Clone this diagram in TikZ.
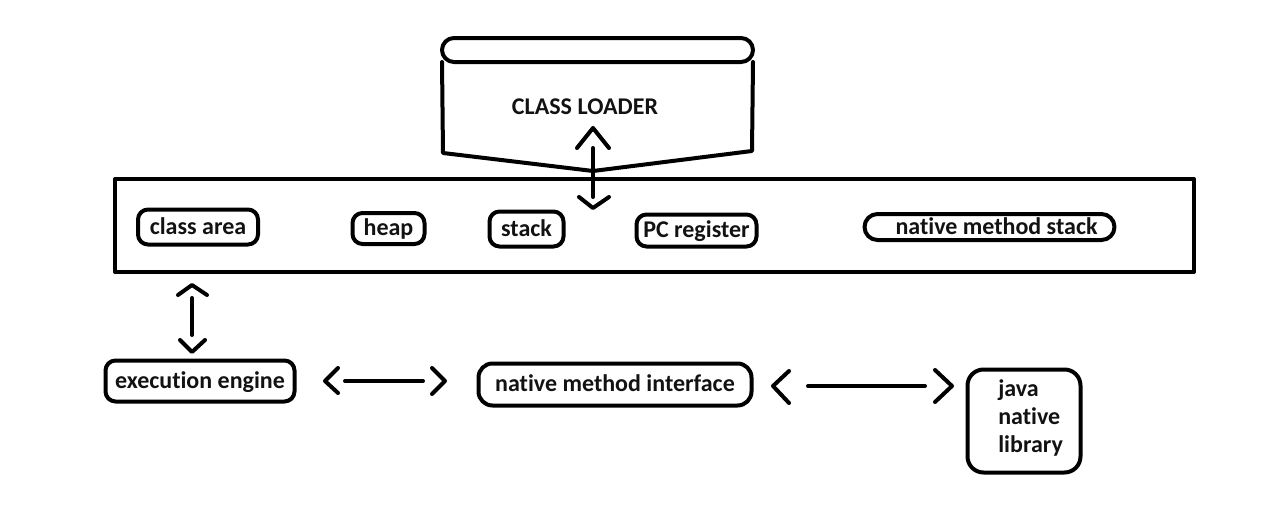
\documentclass[tikz,border=0pt]{standalone}
\usepackage{fontspec}
\setmainfont{Carlito}[RawFeature=-liga]
\begin{document}
\begin{tikzpicture}[x=1pt,y=-1pt,
  line width=4pt, line cap=round, line join=round,
  lbl/.style={font=\fontsize{24}{28}\selectfont\bfseries, text=black!93},
  rbox/.style={draw, rounded corners=10pt, inner sep=0pt, lbl, text height=18pt, text depth=4pt},
  bigbox/.style={draw, inner sep=0pt},
]
\useasboundingbox (0,0) rectangle (1267,514);
% class loader shape
\draw[rounded corners=12pt] (442,38) rectangle (753,62);
\draw (442,62) -- (443,153) -- (593,171) -- (752,151) -- (753,62);
\node[lbl] (cl) at (585,107) {CLASS LOADER};
% runtime data area
\node[bigbox, minimum width=1079pt, minimum height=93pt] (rda) at (654.5,225.5) {};
\node[rbox, minimum width=120pt, minimum height=35pt] (ca) at (198,227) {class area};
\node[rbox, minimum width=72pt, minimum height=31pt] (heap) at (388.5,228.5) {heap};
\node[rbox, minimum width=74pt, minimum height=35pt] (stack) at (526.5,229) {stack};
\node[rbox, minimum width=120pt, minimum height=32pt] (pc) at (696.5,230.5) {PC register};
\node[rbox, rounded corners=13pt, minimum width=250pt, minimum height=26pt] (nms) at (989.5,227) {\hspace{14pt}native method stack};
% lower row
\node[rbox, minimum width=189pt, minimum height=41pt] (ee) at (200,381) {execution engine};
\node[rbox, rounded corners=14pt, minimum width=273pt, minimum height=42pt] (nmi) at (615,384.5) {native method interface};
\node[rbox, rounded corners=16pt, minimum width=113pt, minimum height=103pt] (jnl) at (1024,421) {};
\node[lbl, align=left, anchor=west] (jnlt) at (993,418) {java\\native\\library};
% arrow ends (apexes of the open heads)
\coordinate (a1) at (593,128);
\coordinate (a2) at (593,208);
\coordinate (b1) at (192,285);
\coordinate (b2) at (192,352);
\coordinate (c1) at (325,381);
\coordinate (c2) at (445,381);
\coordinate (d1) at (773,386);
\coordinate (d2) at (952,386);
% class loader <-> runtime data area
\draw[shorten <=20pt, shorten >=11pt] (a1) -- (a2);
\draw (a1) ++(-16,20) -- ++(16,-20) -- ++(16,20);
\draw (a2) ++(-14,-11) -- ++(14,11) -- ++(16,-11);
% class area <-> execution engine
\draw[shorten <=13pt, shorten >=17pt] (b1) -- (b2);
\draw (b1) ++(-14,10) -- ++(14,-10) -- ++(15,10);
\draw (b2) ++(-12,-12) -- ++(12,12) -- ++(13,-12);
% execution engine <-> native method interface
\draw[shorten <=20pt, shorten >=22pt] (c1) -- (c2);
\draw (c1) ++(13,-13) -- ++(-13,13) -- ++(13,12);
\draw (c2) ++(-13,-13) -- ++(13,13) -- ++(-13,13);
% native method interface <-> java native library
\draw[shorten <=35pt, shorten >=27pt] (d1) -- (d2);
\draw (d1) ++(16,-15) -- ++(-16,15) -- ++(16,17);
\draw (d2) ++(-17,-16) -- ++(17,16) -- ++(-17,16);
\end{tikzpicture}
\end{document}
